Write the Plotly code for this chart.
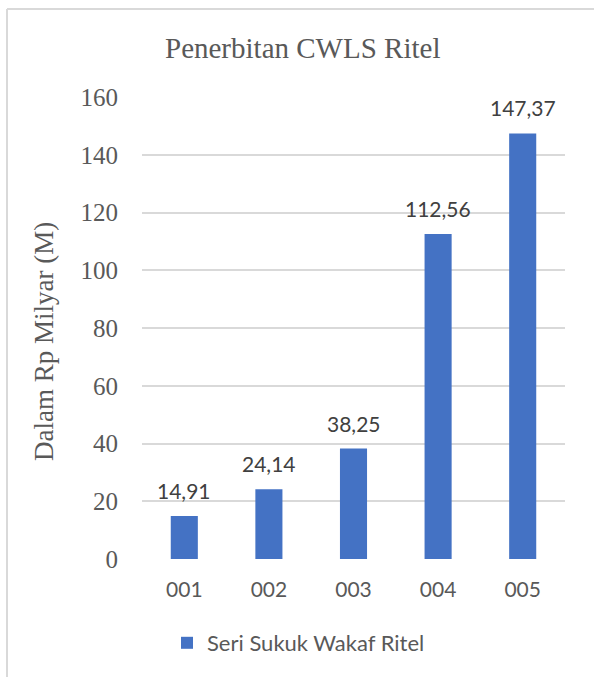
import plotly.graph_objects as go

categories = ["001", "002", "003", "004", "005"]
values = [14.91, 24.14, 38.25, 112.56, 147.37]
series_name = "Seri Sukuk Wakaf Ritel"
y_ticks = [0, 20, 40, 60, 80, 100, 120, 140, 160]

W, H = 594, 677
L, R, T, B = 142, 29, 97, 118
pw, ph = W - L - R, H - T - B

def px(x):
    return (x - L) / pw

def py(y):
    return (H - B - y) / ph

SERIF = "Liberation Serif"
SANS = "Lato"
BAR = "#4472C4"
GREY = "#595959"

fig = go.Figure()
fig.add_trace(go.Bar(
    x=categories, y=values, name=series_name,
    marker=dict(color=BAR, line=dict(width=0)),
    showlegend=True,
))

for i, v in enumerate(values):
    fig.add_annotation(
        x=i, y=v, xref="x", yref="y",
        text=f"{v:.2f}".replace(".", ","),
        showarrow=False, yanchor="bottom", yshift=11,
        font=dict(family=SANS, size=21, color="#404040"),
    )

fig.add_annotation(
    x=px(302), y=py(48), xref="paper", yref="paper",
    text="Penerbitan CWLS Ritel", showarrow=False,
    xanchor="center", yanchor="middle",
    font=dict(family=SERIF, size=29, color=GREY),
)
fig.add_annotation(
    x=px(44), y=py(342), xref="paper", yref="paper",
    text="Dalam Rp Milyar (M)", showarrow=False, textangle=-90,
    xanchor="center", yanchor="middle",
    font=dict(family=SERIF, size=27, color=GREY),
)

fig.add_shape(type="line", xref="paper", yref="paper",
              x0=px(7), x1=px(7), y0=py(9), y1=py(680),
              line=dict(color="#d9d9d9", width=2))
fig.add_shape(type="line", xref="paper", yref="paper",
              x0=px(7), x1=px(600), y0=py(9), y1=py(9),
              line=dict(color="#d9d9d9", width=2))

fig.update_layout(
    width=W, height=H,
    margin=dict(l=L, r=R, t=T, b=B, pad=0),
    paper_bgcolor="white", plot_bgcolor="white",
    bargap=0.68,
    showlegend=True,
    legend=dict(
        orientation="h", x=px(167), y=py(643), xanchor="left", yanchor="middle",
        font=dict(family=SANS, size=22, color=GREY),
        itemwidth=30, tracegroupgap=0, borderwidth=0,
    ),
    xaxis=dict(
        type="category", showgrid=False, zeroline=False, showline=False,
        ticks="outside", ticklen=12, tickcolor="rgba(0,0,0,0)",
        tickfont=dict(family=SANS, size=21, color=GREY),
    ),
    yaxis=dict(
        range=[0, 160], tickvals=y_ticks, showgrid=True, gridcolor="#d9d9d9", gridwidth=1.5,
        zeroline=False, showline=False,
        ticks="outside", ticklen=18, tickcolor="rgba(0,0,0,0)",
        tickfont=dict(family=SERIF, size=25, color=GREY),
    ),
)

fig.write_html("out.html", config={"displayModeBar": False},
               post_script="document.body.style.margin='0';")
